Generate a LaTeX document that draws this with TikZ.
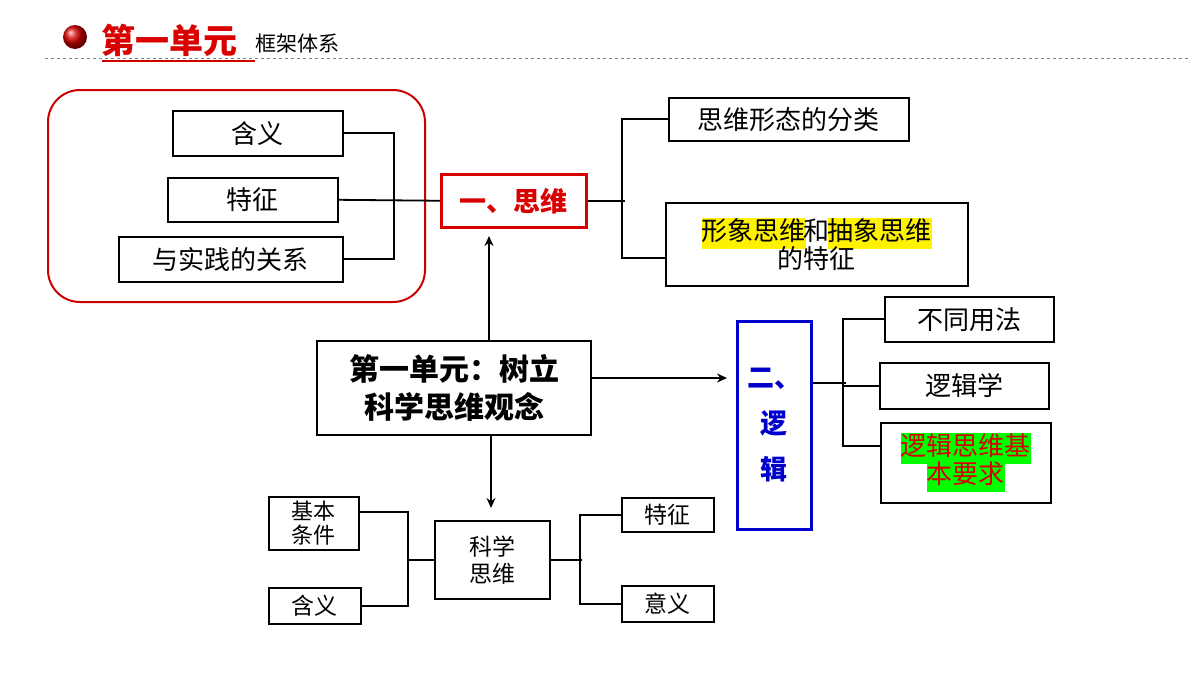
\documentclass[tikz,border=0pt]{standalone}
\usepackage{fontspec}
\usetikzlibrary{arrows.meta}
\setmainfont{Noto Sans CJK SC}
\begin{document}
\begin{tikzpicture}[x=1pt,y=-1pt,
  bx/.style={draw,line width=1.6pt,inner sep=0pt,anchor=north west},
  ln/.style={line width=1.8pt},
  ar/.style={line width=2pt,-{Stealth[length=10pt,width=9pt]}},
  t22/.style={font=\fontsize{26}{30}\selectfont},
  t20/.style={font=\fontsize{23}{27}\selectfont}]
\useasboundingbox (0,0) rectangle (1200,675);
\fill[white] (0,0) rectangle (1200,675);
\setlength{\fboxsep}{0pt}
% header
\shade[ball color=red!85!black] (75,37) circle (12);
\node[text=red!85!black,font=\fontsize{34}{36}\selectfont\bfseries,anchor=west] (h1) at (98,40) {第一单元};
\node[font=\fontsize{21}{22}\selectfont,anchor=west] (h2) at (252,44) {框架体系};
\draw[red!80!black,line width=1.5pt] (102,61) -- (255,61);
\draw[gray,dashed] (45,58) -- (1190,58);
% left group
\draw[red!80!black,line width=2pt,rounded corners=32] (48,90) rectangle (425,302);
\node[bx,minimum width=170,minimum height=45,t22] (hy) at (172,110) {含义};
\node[bx,minimum width=170,minimum height=44,t22] (tz) at (167,177) {特征};
\node[bx,minimum width=224,minimum height=45,t22] (sj) at (118,236) {与实践的关系};
\node[draw=red!85!black,line width=2.5pt,minimum width=145,minimum height=53,inner sep=0,anchor=north west,text=red!85!black,font=\fontsize{27}{28}\selectfont\bfseries] (sw) at (440,173) {一、思维};
\draw[ln] (hy.east) -- ++(50,0) |- (sj.east);
\draw[ln] (tz.east) -- (sw.west);
% top right
\node[bx,minimum width=240,minimum height=43,t22] (fl) at (668,97) {思维形态的分类};
\node[bx,minimum width=302,minimum height=83,t22,align=center] (xx) at (665,202) {\colorbox{yellow}{\strut 形象思维}\hspace{-2pt}和\hspace{-2pt}\colorbox{yellow}{\strut 抽象思维}\\[-4pt]的特征};
\draw[ln] (sw.east) -- ++(37,0);
\draw[ln] (fl.west) -- ++(-46,0) |- (665,258);
% center
\node[draw,line width=2.2pt,minimum width=274,minimum height=94,inner sep=0,anchor=north west,align=center,font=\fontsize{30}{38}\selectfont\bfseries] (c) at (316,340) {第一单元：树立\\科学思维观念};
\draw[ar] (489,340) -- (489,236);
% logic
\node[draw=blue!80!black,line width=2.5pt,minimum width=74,minimum height=208,inner sep=0,anchor=north west,align=center,text=blue!80!black,font=\fontsize{27}{46}\selectfont\bfseries] (lj) at (736,320) {二、\\逻\\辑};
\draw[ar] (590,378) -- (727,378);
\node[bx,minimum width=169,minimum height=45,t22] (bt) at (884,296) {不同用法};
\node[bx,minimum width=169,minimum height=46,t22] (ljx) at (879,362) {逻辑学};
\node[bx,minimum width=170,minimum height=80,align=center,text=red!85!black,t22] (yq) at (880,422) {\colorbox{green}{\strut 逻辑思维基}\\[-4pt]\colorbox{green}{\strut 本要求}};
\draw[ln] (lj.east |- 0,383) -- ++(33,0);
\draw[ln] (bt.west) -- ++(-41,0) |- (880,446);
\draw[ln] (ljx.west) -- ++(-36,0);
% bottom
\node[bx,minimum width=115,minimum height=78,align=center,t20] (kx) at (434,520) {科学\\思维};
\draw[ar] (491,434) -- (491,508);
\node[bx,minimum width=90,minimum height=53,align=center,font=\fontsize{22}{24}\selectfont] (jb) at (268,496) {基本\\条件};
\node[bx,minimum width=92,minimum height=36,t20] (hy2) at (268,587) {含义};
\node[bx,minimum width=92,minimum height=34,t20] (tz2) at (621,497) {特征};
\node[bx,minimum width=92,minimum height=36,t20] (yy) at (621,585) {意义};
\draw[ln] (jb.east |- 0,512) -- (408,512) |- (hy2.east);
\draw[ln] (kx.west) -- ++(-26,0);
\draw[ln] (kx.east) -- ++(31,0);
\draw[ln] (tz2.west) -- ++(-41,0) |- (yy.west);
\end{tikzpicture}
\end{document}
